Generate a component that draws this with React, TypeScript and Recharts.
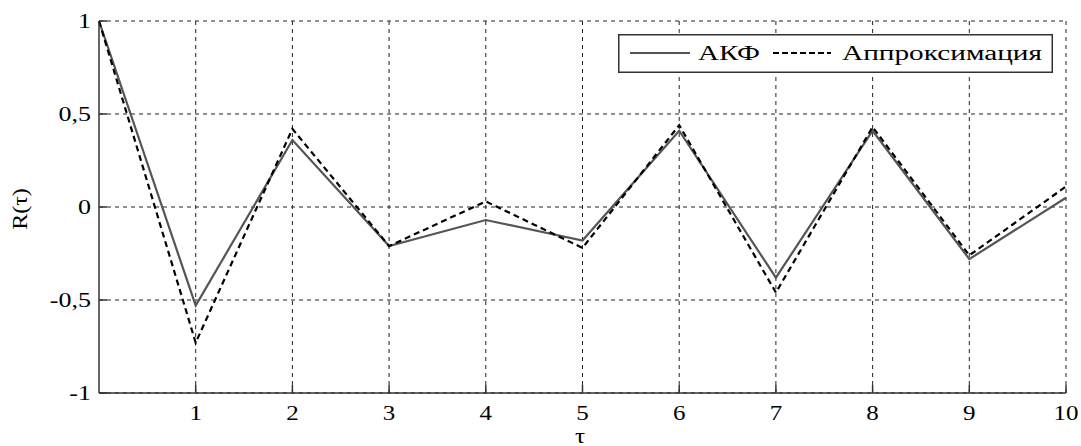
import { LineChart, Line, XAxis, YAxis, CartesianGrid } from "recharts";

// lag values and the two correlation curves
const tau = [0, 1, 2, 3, 4, 5, 6, 7, 8, 9, 10];
const akf = [1, -0.53, 0.36, -0.21, -0.07, -0.18, 0.41, -0.38, 0.41, -0.28, 0.05];
const approx = [1, -0.73, 0.42, -0.21, 0.03, -0.22, 0.44, -0.46, 0.43, -0.26, 0.11];

const xTicks = [1, 2, 3, 4, 5, 6, 7, 8, 9, 10];
const yTicks = [-1, -0.5, 0, 0.5, 1];

const data = tau.map((t, i) => ({ t, akf: akf[i], approx: approx[i] }));

const FONT = "Liberation Serif, Times New Roman, serif";
const AXIS = "#333";

// no page margin, no scrollbars
document.body.style.margin = "0";
document.documentElement.style.overflow = "hidden";
document.body.style.overflow = "hidden";

const fmt = (v: number) => String(v).replace(".", ",");

const BottomTick = ({ x, y, payload }: any) => (
  <g>
    <line x1={x} y1={y} x2={x} y2={y - 8} stroke={AXIS} strokeWidth={1.5} />
    <text
      transform={`translate(${x},${y + 27}) scale(1.25,1)`}
      textAnchor="middle"
      fontFamily={FONT}
      fontSize={20}
      fill="#000"
    >
      {payload.value}
    </text>
  </g>
);

const LeftTick = ({ x, y, payload }: any) => (
  <g>
    <line x1={x} y1={y} x2={x + 8} y2={y} stroke={AXIS} strokeWidth={1.5} />
    <text
      transform={`translate(${x - 8},${y + 7}) scale(1.3,1)`}
      textAnchor="end"
      fontFamily={FONT}
      fontSize={20}
      fill="#000"
    >
      {fmt(payload.value)}
    </text>
  </g>
);

const TopTick = ({ x, y }: any) => (
  <line x1={x} y1={y} x2={x} y2={y + 8} stroke={AXIS} strokeWidth={1.5} />
);

const RightTick = ({ x, y }: any) => (
  <line x1={x} y1={y} x2={x - 8} y2={y} stroke={AXIS} strokeWidth={1.5} />
);

function LegendBox() {
  return (
    <svg
      width={435}
      height={39}
      style={{ position: "absolute", left: 618, top: 34 }}
    >
      <rect x={0.75} y={0.75} width={433.5} height={37.5} fill="#fff" stroke={AXIS} strokeWidth={1.5} />
      <line x1={12} y1={19} x2={72} y2={19} stroke="#555" strokeWidth={2.2} />
      <text x={80} y={26} fontFamily={FONT} fontSize={20} textLength={62} lengthAdjust="spacingAndGlyphs">
        АКФ
      </text>
      <line x1={155} y1={19} x2={213} y2={19} stroke="#000" strokeWidth={2.2} strokeDasharray="6 3" />
      <text x={224} y={26} fontFamily={FONT} fontSize={20} textLength={200} lengthAdjust="spacingAndGlyphs">
        Аппроксимация
      </text>
    </svg>
  );
}

export default function App() {
  return (
    <div style={{ position: "relative", width: 1081, height: 446, background: "#fff", overflow: "hidden" }}>
      <LineChart
        width={1081}
        height={446}
        data={data}
        margin={{ top: 21, right: 15, bottom: 0, left: 0 }}
      >
        <CartesianGrid
          stroke="#222"
          strokeDasharray="4 4"
          horizontalValues={yTicks}
          verticalValues={xTicks}
        />
        <XAxis
          dataKey="t"
          type="number"
          domain={[0, 10]}
          ticks={xTicks}
          height={53}
          tickSize={0}
          tickMargin={0}
          tickLine={false}
          tick={<BottomTick />}
          stroke={AXIS}
          strokeWidth={1.5}
          label={{
            content: () => (
              <text
                transform="translate(580,443) scale(1.25,1)"
                textAnchor="middle"
                fontFamily={FONT}
                fontSize={20}
              >
                τ
              </text>
            ),
          }}
        />
        <XAxis
          xAxisId="top"
          orientation="top"
          dataKey="t"
          type="number"
          domain={[0, 10]}
          ticks={xTicks}
          height={0}
          tickSize={0}
          tickMargin={0}
          tickLine={false}
          tick={<TopTick />}
          stroke={AXIS}
          strokeWidth={1.5}
        />
        <YAxis
          type="number"
          domain={[-1, 1]}
          ticks={yTicks}
          width={99}
          tickSize={0}
          tickMargin={0}
          tickLine={false}
          tick={<LeftTick />}
          stroke={AXIS}
          strokeWidth={1.5}
          label={{
            content: () => (
              <text
                transform="translate(27,209) rotate(-90) scale(1.2,1)"
                textAnchor="middle"
                fontFamily={FONT}
                fontSize={20}
              >
                R(τ)
              </text>
            ),
          }}
        />
        <YAxis
          yAxisId="right"
          orientation="right"
          type="number"
          domain={[-1, 1]}
          ticks={yTicks}
          width={0}
          tickSize={0}
          tickMargin={0}
          tickLine={false}
          tick={<RightTick />}
          stroke={AXIS}
          strokeWidth={1.5}
        />
        <Line
          dataKey="akf"
          stroke="#555"
          strokeWidth={2.2}
          dot={false}
          isAnimationActive={false}
        />
        <Line
          dataKey="approx"
          stroke="#000"
          strokeWidth={2.2}
          strokeDasharray="6 4"
          dot={false}
          isAnimationActive={false}
        />
      </LineChart>
      <LegendBox />
    </div>
  );
}
